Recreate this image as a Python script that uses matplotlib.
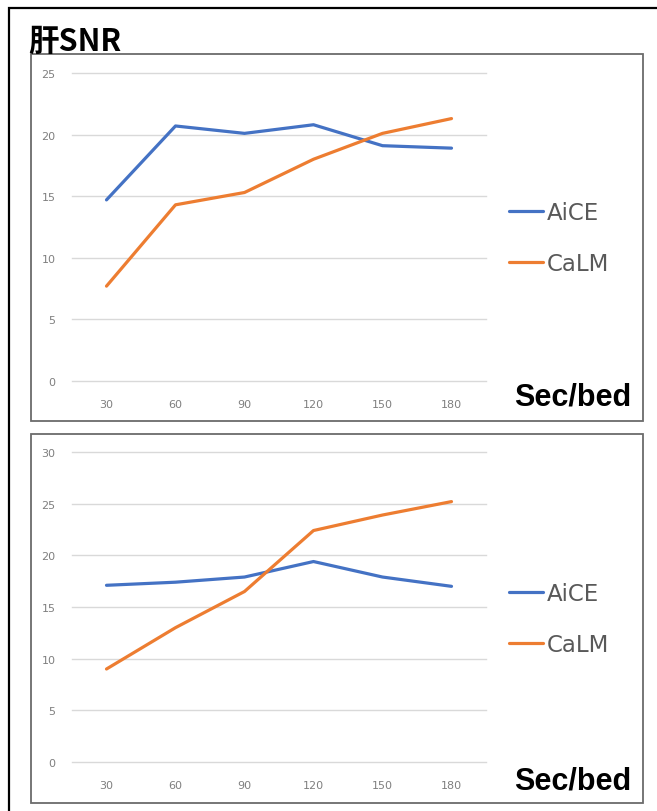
import matplotlib
matplotlib.use("Agg")
from matplotlib import pyplot as plt
from matplotlib.patches import Rectangle
import numpy as np

# Sec/bed
categories = ['30', '60', '90', '120', '150', '180']

# upper panel (liver SNR)
aice_top = [14.7, 20.7, 20.1, 20.8, 19.1, 18.9]
calm_top = [7.7, 14.3, 15.3, 18.0, 20.1, 21.3]

# lower panel
aice_bottom = [17.1, 17.4, 17.9, 19.4, 17.9, 17.0]
calm_bottom = [9.0, 13.0, 16.5, 22.4, 23.9, 25.2]

series_names = ['AiCE', 'CaLM']
series_colors = ['#4472C4', '#ED7D31']

W, H = 657, 812
fig = plt.figure(figsize=(W / 100, H / 100), dpi=100)


def px_rect(x0, y0, x1, y1):
    # pixel box (top-left origin) -> figure fraction [left, bottom, width, height]
    return [x0 / W, 1 - y1 / H, (x1 - x0) / W, (y1 - y0) / H]


def box(x0, y0, x1, y1, color, lw):
    l, b, w, h = px_rect(x0, y0, x1, y1)
    fig.patches.append(Rectangle((l, b), w, h, transform=fig.transFigure,
                                 fill=False, edgecolor=color, linewidth=lw))


# outer frame runs off the right and bottom of the picture
box(9, 9, 700, 860, 'black', 1.6)
box(31, 55, 643, 422, '#6b6b6b', 1.3)
box(31, 435, 643, 804, '#6b6b6b', 1.3)


def draw_panel(rect, aice, calm, ymax, legend_y):
    ax = fig.add_axes(px_rect(*rect))
    x = np.arange(len(categories))
    for vals, name, col in zip([aice, calm], series_names, series_colors):
        ax.plot(x, vals, color=col, linewidth=2.3, label=name,
                solid_capstyle='round', zorder=3)
    ax.set_xlim(-0.5, len(categories) - 0.5)
    ax.set_ylim(0, ymax)
    ax.set_yticks(np.arange(0, ymax + 1, 5))
    ax.set_xticks(x)
    ax.set_xticklabels(categories)
    ax.grid(axis='y', color='#d9d9d9', linewidth=1.0)
    for gl in ax.get_ygridlines():
        gl.set_clip_on(False)
    ax.set_axisbelow(True)
    for s in ax.spines.values():
        s.set_visible(False)
    ax.tick_params(axis='both', length=0, labelsize=8, labelcolor='#7f7f7f')
    ax.tick_params(axis='x', pad=13)
    ax.tick_params(axis='y', pad=12)
    handles, labels = ax.get_legend_handles_labels()
    fig.legend(handles, labels, loc='center left',
               bbox_to_anchor=(509 / W, 1 - legend_y / H),
               frameon=False, fontsize=16.5, handlelength=1.5,
               handletextpad=0.15, labelspacing=1.2, borderpad=0,
               borderaxespad=0, labelcolor='#595959')
    return ax


draw_panel((72, 74, 486, 382), aice_top, calm_top, 25, 239)
draw_panel((72, 453, 486, 763), aice_bottom, calm_bottom, 30, 620)

xlabel_font = ['Liberation Sans Narrow', 'Liberation Sans', 'DejaVu Sans']
fig.text(631 / W, 1 - 398 / H, 'Sec/bed', ha='right', va='center',
         fontsize=22, fontweight='bold', family=xlabel_font)
fig.text(631 / W, 1 - 782 / H, 'Sec/bed', ha='right', va='center',
         fontsize=22, fontweight='bold', family=xlabel_font)

fig.text(28 / W, 1 - 42 / H, '肝SNR', ha='left', va='center',
         fontsize=22, fontweight='bold',
         family=['Noto Sans CJK JP', 'DejaVu Sans'])

fig.savefig('out.png', dpi=100)
